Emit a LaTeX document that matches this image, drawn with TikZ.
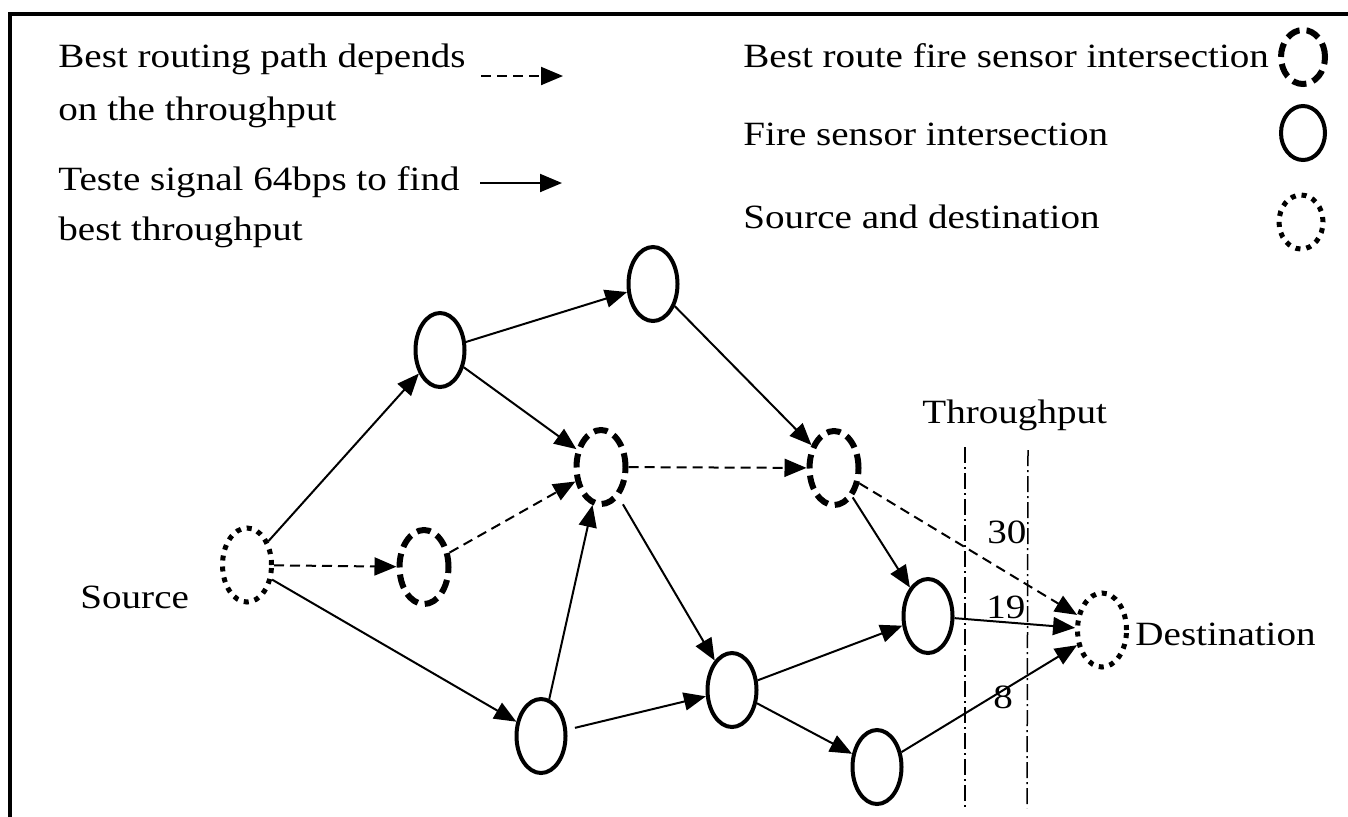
\documentclass[tikz,border=0pt]{standalone}
\usepackage{fontspec}
\setmainfont[FakeStretch=1.15]{Liberation Serif}
\usetikzlibrary{arrows.meta,shapes.geometric}

\tikzset{
  sensor/.style={ellipse, draw, line width=2pt, inner sep=0pt, minimum width=24.5pt, minimum height=37pt},
  bestsensor/.style={sensor, line width=3pt, dash pattern=on 7pt off 3.5pt},
  endpoint/.style={sensor, line width=2.5pt, dash pattern=on 2.5pt off 3pt},
  keysize/.style={minimum width=22pt, minimum height=27pt},
  link/.style={line width=1pt, -{Triangle[length=11pt,width=9pt]}},
  bestlink/.style={link, dash pattern=on 5pt off 3pt},
  lbl/.style={font=\fontsize{17}{20}\selectfont, inner sep=0pt, anchor=base west},
  cutline/.style={line width=0.75pt, dash pattern=on 8pt off 2pt on 1pt off 2pt},
}

\begin{document}
\begin{tikzpicture}[x=0.5pt,y=0.5pt,yscale=-1,xscale=1]
\useasboundingbox (0,0) rectangle (1348,816);

%Shape: Frame
\draw [line width=2pt] (10,14) rectangle (1370,840) ;

% Text Node
\node [lbl] (keyA1) at (58,67) {Best routing path depends};
\node [lbl] (keyA2) at (58,120) {on the throughput};
\node [lbl] (keyB1) at (58,190) {Teste signal 64bps to find};
\node [lbl] (keyB2) at (58,240) {best throughput};
\node [lbl] (keyC) at (743,67) {Best route fire sensor intersection};
\node [lbl] (keyD) at (743,145) {Fire sensor intersection};
\node [lbl] (keyE) at (743,228) {Source and destination};

%Straight Lines (legend)
\coordinate (dsh0) at (481,76);
\coordinate (dsh1) at (563,76);
\coordinate (sol0) at (480,183);
\coordinate (sol1) at (562,183);
\draw [bestlink] (dsh0) -- (dsh1) ;
\draw [link] (sol0) -- (sol1) ;

%Shape: Ellipse (legend)
\node [bestsensor, keysize] (keyBest) at (1303,57) {};
\node [sensor, keysize] (keyFire) at (1303,133) {};
\node [endpoint, keysize] (keyEnd) at (1301,222) {};

%Shape: Ellipse
\node [endpoint] (src) at (247,565) {};
\node [endpoint] (dst) at (1102,630) {};
\node [sensor] (n1) at (440,350) {};
\node [sensor] (n2) at (653,284) {};
\node [bestsensor] (b1) at (424,567) {};
\node [bestsensor] (b2) at (601,467) {};
\node [bestsensor] (b3) at (834,468) {};
\node [sensor] (c1) at (541,736) {};
\node [sensor] (e1) at (732,690) {};
\node [sensor] (f1) at (928,616) {};
\node [sensor] (g1) at (877,767) {};

%Straight Lines
\draw [link] (src) -- (n1) ;
\draw [bestlink] (src) -- (b1) ;
\draw [link] (src) -- (c1) ;
\draw [link] (n1) -- (n2) ;
\draw [link] (n1) -- (b2) ;
\draw [bestlink] (b1) -- (b2) ;
\draw [link] (c1) -- (b2) ;
\draw [link, shorten <=4pt] (c1) -- (e1) ;
\draw [link, shorten <=4pt] (b2) -- (e1) ;
\draw [bestlink] (b2) -- (b3) ;
\draw [link] (n2) -- (b3) ;
\draw [link] (b3) -- (f1) ;
\draw [bestlink] (b3) -- (dst) ;
\draw [link] (e1) -- (f1) ;
\draw [link] (e1) -- (g1) ;
\draw [link] (f1) -- (dst) ;
\draw [link] (g1) -- (dst) ;

%Straight Lines (throughput cuts)
\coordinate (cutA0) at (965,447);
\coordinate (cutA1) at (965,808);
\coordinate (cutB0) at (1028,450);
\coordinate (cutB1) at (1027,808);
\draw [cutline] (cutA0) -- (cutA1) ;
\draw [cutline] (cutB0) -- (cutB1) ;

% Text Node
\node [lbl] (thr) at (922,423) {Throughput};
\node [lbl] (t30) at (987,543) {30};
\node [lbl] (t19) at (986,618) {19};
\node [lbl] (t8) at (993,708) {8};
\node [lbl] (srcl) at (80,608) {Source};
\node [lbl] (dstl) at (1135,645) {Destination};

\end{tikzpicture}
\end{document}
